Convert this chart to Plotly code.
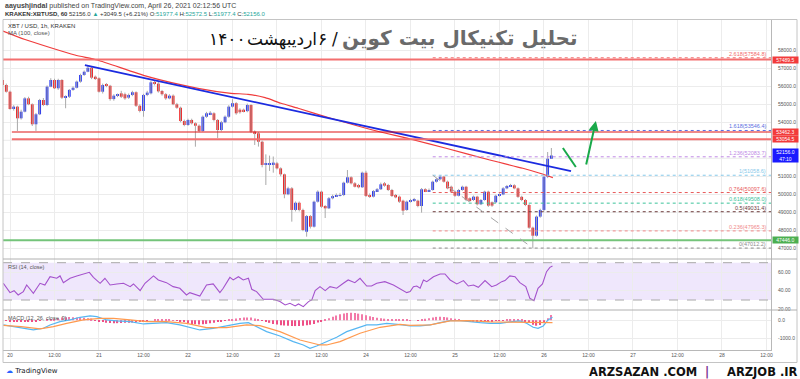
import plotly.graph_objects as go

# ---------------- data ----------------
candle_opens = [
    56350, 56072, 55700, 54740, 54870, 54222, 54590, 55330, 55000, 53890,
    54445, 55240, 54960, 55980, 56350, 55890, 56350, 55370, 55420, 55800,
    55920, 56260, 56630, 56810, 57030, 56535, 56445, 55700, 56100, 56030,
    55290, 55480, 55610, 55560, 55370, 55520, 55670, 54920, 54630, 55520,
    55610, 56220, 56150, 55740, 55560, 55330, 55480, 55000, 54810, 54070,
    53850, 54130, 53945, 53810, 53517, 54310, 54450, 54500, 54130, 53570,
    54000, 54310, 54870, 55060, 54700, 54700, 54620, 54960, 53480, 53390,
    52920, 51630, 51650, 51630, 51720, 51440, 51110, 50000, 50330, 49130,
    49530, 49130, 47920, 48790, 48200, 49590, 50145, 49350, 49220, 49780,
    49900, 49930, 49960, 50645, 50945, 50610, 50517, 50390, 51200, 49960,
    49870, 50180, 50280, 50610, 50517, 50240, 49960, 49870, 49645, 49130,
    49590, 49630, 49645, 49350, 50280, 50180, 50240, 50700, 50835, 50980,
    50700, 50420, 50145, 49920, 50240, 50420, 49780, 49683, 49870, 49445,
    49683, 50145, 49555, 49555, 49920, 49990, 50330, 50460, 50500, 50330,
    49860, 49683, 49406, 48145, 47700, 48760, 49130, 50980, 51977.4]
candle_closes = [
    56072, 55700, 54740, 54870, 54222, 54590, 55330, 55000, 53890, 54445,
    55240, 54960, 55980, 56350, 55890, 56350, 55370, 55420, 55800, 55920,
    56260, 56630, 56810, 57030, 56480, 56445, 55700, 56070, 56030, 55290,
    55480, 55520, 55420, 55330, 55520, 55670, 54920, 54630, 55520, 55650,
    56220, 56130, 55720, 55560, 55330, 55480, 55000, 54810, 54070, 53850,
    54130, 53945, 53810, 53517, 54310, 54500, 54530, 54130, 53570, 54000,
    54310, 54870, 55060, 54500, 54560, 54620, 54960, 53480, 53390, 52920,
    51630, 51720, 51720, 51760, 51440, 51110, 50000, 50330, 49130, 49530,
    49130, 48017, 48790, 48200, 49590, 50145, 49310, 49220, 49780, 49900,
    49960, 49960, 50645, 50945, 50610, 50420, 50390, 51200, 49910, 49870,
    50180, 50280, 50555, 50480, 50240, 49905, 49830, 49590, 49090, 49590,
    49680, 49720, 49350, 50280, 50180, 50240, 50700, 50835, 50980, 50700,
    50330, 50145, 49920, 50240, 50420, 49683, 49630, 49870, 49445, 49683,
    50145, 49370, 49370, 49920, 49990, 50330, 50460, 50500, 50330, 49860,
    49683, 49406, 48145, 47700, 48760, 49130, 50980, 51977.4, 52156.0]
candle_highs = [
    56500, 56150, 55760, 54950, 54920, 54700, 55400, 55420, 55050, 54520,
    55300, 55350, 56050, 56450, 56420, 56420, 56400, 55500, 55850, 56000,
    56320, 56700, 56880, 57184, 57100, 56600, 56500, 56150, 56180, 56080,
    55560, 55600, 55750, 55650, 55600, 55750, 55720, 55000, 55580, 55750,
    56300, 56350, 56250, 55800, 55620, 55560, 55550, 55080, 54870, 54150,
    54200, 54200, 54000, 53880, 54380, 54580, 54620, 54560, 54180, 54080,
    54380, 54950, 55280, 55120, 54780, 54760, 55040, 55000, 53550, 53450,
    52980, 52220, 52150, 52100, 51800, 51500, 51150, 50420, 50400, 49600,
    49600, 49200, 48850, 48850, 49650, 50220, 50200, 49400, 49850, 49980,
    50050, 50080, 50700, 51350, 51000, 50680, 50580, 51260, 51310, 50050,
    50240, 50350, 50650, 50680, 50580, 50300, 50020, 49930, 49700, 49650,
    49750, 49800, 49700, 50350, 50340, 50320, 50760, 50900, 51058.6, 51030,
    50760, 50480, 50200, 50300, 50480, 50470, 49830, 49930, 49920, 49740,
    50200, 50200, 49600, 49980, 50050, 50400, 50520, 50580, 50560, 50380,
    49920, 49740, 49460, 48200, 48820, 49200, 51050, 52350, 52572.5]
candle_lows = [
    55990, 55650, 54700, 54650, 53517, 54150, 54550, 54950, 53795, 53520,
    54400, 54900, 54900, 55950, 55850, 55800, 55300, 54780, 55350, 55750,
    55880, 56200, 56580, 56780, 56400, 56350, 55650, 55600, 55950, 55200,
    55200, 55400, 55350, 55250, 55300, 55450, 54850, 54550, 54310, 55450,
    55550, 56050, 55650, 55480, 55250, 55280, 54950, 54750, 54000, 53780,
    53800, 53880, 52645, 53450, 53480, 54250, 54400, 54050, 53130, 53500,
    53950, 54250, 54820, 54420, 54480, 54550, 54560, 53400, 52740, 52650,
    51500, 50517, 51300, 51200, 51380, 51000, 49780, 49950, 48480, 49050,
    49050, 47950, 47645, 48100, 48150, 49540, 49250, 48683, 49180, 49720,
    49850, 49880, 49900, 50600, 50550, 50380, 50330, 50350, 49850, 49800,
    49820, 50130, 50240, 50420, 50180, 49850, 49780, 49520, 48850, 49080,
    49540, 49580, 49280, 48980, 50120, 50130, 50200, 50650, 50780, 50650,
    50280, 50080, 49860, 49880, 50200, 49620, 49570, 49630, 49380, 49400,
    49640, 49300, 49300, 49500, 49870, 49950, 50280, 50410, 50280, 49800,
    49620, 49340, 48080, 47012.2, 47650, 48700, 49050, 50900, 51977.4]
first_candle_hour = -2          # hours after 20 Apr 00:00 (UTC)

# MA(100, close): (hour, value)
ma_readings = [(-1.9, 59073), (4.05, 58601), (17.5, 57740), (23.5, 57462), (37.2, 56534),
               (50.7, 55890), (59.6, 55612), (64.2, 55556), (68.8, 55367), (73.1, 55056),
               (77.7, 54778), (86.3, 54239), (97.8, 53572), (107.9, 53072), (117.6, 52556),
               (129.4, 51906), (138.3, 51445), (142.9, 51167), (146.4, 50923)]

rsi_readings = [(-1.8, 47.9), (0, 37.9), (1.1, 40), (2.2, 35.4), (3.6, 39), (4.5, 46.1), (6.3, 37.2),
                (8.1, 47.9), (9.4, 46.1), (10.8, 55), (12.6, 53.3), (13.5, 55.8), (14.4, 48.6),
                (16.2, 53.3), (18, 55.8), (19.8, 57.9), (21.4, 59.7), (22.5, 54.3), (24.3, 47.9),
                (25.6, 53.3), (27, 46.1), (28.8, 47.2), (30.6, 47.9), (32.4, 44.3), (33.3, 47.2),
                (35.1, 40), (36.4, 47.9), (38.7, 55.8), (40, 51.5), (42.2, 48.6), (44, 44.3),
                (45.8, 42.6), (47.6, 35.4), (48.5, 37.9), (51.2, 34.3), (53, 46.1), (54.8, 47.2),
                (56.6, 37.9), (57.5, 42.6), (59.3, 54.3), (60.2, 51.5), (61.6, 55), (62.9, 51.5),
                (64.3, 53.3), (65.2, 41.5), (66.5, 39), (68.3, 30.8), (71, 30.8), (72.8, 28.3),
                (74.2, 24.7), (75.5, 26.5), (76.9, 23.6), (77.8, 25.8), (79.1, 22.9), (80.5, 28.3),
                (81.4, 30.1), (82.3, 40), (83.6, 44.3), (85, 40), (86.3, 44.3), (88.1, 42.6),
                (89.9, 47.9), (91.2, 51.5), (93, 48.6), (94.4, 53.3), (96.2, 45), (97.5, 45),
                (98.9, 47.9), (101.1, 49.7), (103.4, 46.1), (105.2, 42), (107, 37.9), (107.9, 39),
                (108.8, 44.3), (109.7, 45), (110.6, 42.6), (111.5, 51.5), (112.4, 49.7), (114.2, 55),
                (116, 57.9), (117.3, 57.9), (118.7, 51.5), (120.5, 47.2), (122.3, 50.8), (123.6, 45),
                (125, 46.1), (126.3, 43.6), (128.1, 50.8), (129.9, 44.3), (131.2, 46.1), (132.6, 49.7),
                (133.5, 50.8), (134.8, 55.8), (136.2, 55), (137.5, 48.6), (139.1, 44.3), (140.2, 31.8),
                (141.3, 29.3), (142.4, 42.6), (143.6, 47.2), (144.7, 60.4), (145.6, 65), (146.3, 66.5)]

macd_readings = [(-1.8, -259), (0.9, -352), (3.6, -444), (6.3, -537), (9, -444), (10.8, -259),
                 (13.5, -74), (16.2, 19), (18.9, 167), (21.6, 241), (23.4, 204), (26.1, 19),
                 (28.8, -37), (32.4, -74), (36, -204), (38.7, -167), (42.2, -130), (45.8, -259),
                 (48.5, -389), (51.2, -537), (54.8, -444), (58.4, -315), (62, -167), (64.3, -130),
                 (66.5, -352), (69.2, -630), (72.8, -870), (76.4, -1185), (79.1, -1370), (80.9, -1555),
                 (82.7, -1426), (85.4, -1185), (88.1, -944), (90.8, -630), (93.5, -444), (96.2, -259),
                 (98.9, -259), (101.6, -167), (105.2, -240), (107.9, -315), (110.6, -315), (113.3, -259),
                 (116, -130), (118.7, -19), (121.4, -19), (124.1, -93), (126.8, -130), (129.5, -167),
                 (132.2, -167), (134.8, -93), (137.5, -37), (139.3, -167), (141.1, -389), (142.4, -444),
                 (143.8, -315), (145.1, 19), (146.3, 167)]

signal_readings = [(-1.8, -278), (3, -352), (8.1, -481), (11.7, -352), (15.3, -167), (19.8, 19),
                   (24.3, 111), (27.9, 111), (32.4, 19), (36.9, -74), (42.2, -74), (47.6, -167),
                   (53, -407), (58.4, -407), (63.8, -259), (67.4, -296), (72.8, -630), (78.2, -1093),
                   (83.6, -1370), (85.4, -1370), (89, -1185), (94.4, -722), (99.8, -389), (105.2, -222),
                   (107.9, -278), (113.3, -259), (118.7, -37), (124.1, -19), (129.5, -93), (134.8, -93),
                   (140.2, -93), (143.8, -130), (146.3, -130)]

macd_hist = [-30, -40, -50, -60, -70, -80, -90, -60, -40, -20,
             0, 30, 60, 90, 120, 150, 170, 180, 170, 160, 150, 140, 120, 100,
             -20, -60, -100, -130, -150, -160, -160, -150, -140, -130, -120, -110, -100,
             -60, -30, 0, 30, 40, 50, 40, 30, 10, -20, -50,
             -100, -150, -200, -220, -230, -220, -200, -170, -130, -100,
             -60, -20, 20, 60, 100, 130, 150, 160, 150, 100,
             40, -20, -80, -140, -200, -240, -270, -290, -300, -310, -320, -320, -300, -280, -250, -200,
             -120, -40, 40, 120, 200, 270, 330, 380, 410, 420, 400, 370, 330, 280, 230, 180, 140,
             110, 90, 70, 60, 50, 40, 30, 20, 10, 0, -10,
             40, 80, 120, 160, 190, 200, 190, 160, 120, 80,
             40, 0, -30, -50, -60, -70, -70, -60, -50, -40, -30, -20, -10,
             20, 50, 70, 60, 30,
             -40, -150, -250, -300, -260, -120, 120, 300]
first_hist_hour = -1

tick_hours = list(range(0, 205, 12))
tick_text = ["20", "12:00", "21", "12:00", "22", "12:00", "23", "12:00", "24", "12:00",
             "25", "12:00", "26", "12:00", "27", "12:00", "28", "12:00"]
# 52000 and 53000 are hidden behind the price boxes in the reference
price_ticks = [47000, 48000, 49000, 50000, 51000, 54000, 55000, 56000, 57000, 58000]
rsi_ticks = [20, 40, 60]
macd_ticks = [-1000, 0]
price_grid = [52000, 53000]

resistance_prices = [57489.5, 53462.3, 53054.5]
support_price = 47446.0
last_price = 52156.0
countdown = "47:10"

fib_ratios = ["2.618", "1.618", "1.236", "1", "0.764", "0.618", "0.5", "0.236", "0"]
fib_prices = [57584.8, 53546.4, 52083.7, 51058.6, 50097.6, 49508.0, 49031.4, 47965.3, 47012.2]
fib_anchor_hours = [114, 141]
fib_anchor_prices = [51058.6, 47012.2]

trend_hours = [20.2, 151.3]
trend_prices = [57180, 51290]

green_stroke_hours = [149.1, 152.6]
green_stroke_prices = [52572, 51517]
green_arrow_hours = [155.3, 158.0]
green_arrow_prices = [51573, 54073]

# ---------------- styles / geometry ----------------
W, H = 800, 379
L, R, T, B = 3, 771, 20, 350
Y_PRICE_BOTTOM, Y_RSI_BOTTOM = 259, 310


def px(x):
    return (x - L) / (R - L)


def py(y):
    return (B - y) / (B - T)


UP, DOWN, WICK = "#1f2ff2", "#f01c1c", "#a9a9a9"
GRID = "#ececec"
AXIS = "#b8b8b8"
FONT = "Liberation Sans"

candle_hours = list(range(first_candle_hour, first_candle_hour + len(candle_opens)))
hist_hours = list(range(first_hist_hour, first_hist_hour + len(macd_hist)))

fig = go.Figure()

# wicks
wx, wy = [], []
for h, hi, lo in zip(candle_hours, candle_highs, candle_lows):
    wx += [h, h, None]
    wy += [lo, hi, None]
fig.add_trace(go.Scatter(x=wx, y=wy, mode="lines", line=dict(color=WICK, width=1),
                         xaxis="x", yaxis="y", hoverinfo="skip"))
# bodies
bases = [min(o, c) for o, c in zip(candle_opens, candle_closes)]
sizes = [max(abs(c - o), 28) for o, c in zip(candle_opens, candle_closes)]
cols = [UP if c >= o else DOWN for o, c in zip(candle_opens, candle_closes)]
fig.add_trace(go.Bar(x=candle_hours, y=sizes, base=bases, width=0.74,
                     marker=dict(color=cols, line=dict(width=0)), xaxis="x", yaxis="y"))

# MA 100
fig.add_trace(go.Scatter(x=[p[0] for p in ma_readings], y=[p[1] for p in ma_readings],
                         mode="lines", line=dict(color="#f03c3c", width=1.2, shape="spline", smoothing=0.6),
                         xaxis="x", yaxis="y"))
# trend line
fig.add_trace(go.Scatter(x=trend_hours, y=trend_prices, mode="lines",
                         line=dict(color="#1b2be0", width=1.8), xaxis="x", yaxis="y"))
# green stroke
fig.add_trace(go.Scatter(x=green_stroke_hours, y=green_stroke_prices, mode="lines",
                         line=dict(color="#19a94a", width=2), xaxis="x", yaxis="y"))

# RSI
fig.add_trace(go.Scatter(x=[p[0] for p in rsi_readings], y=[p[1] for p in rsi_readings],
                         mode="lines", line=dict(color="#a452cc", width=1.1), xaxis="x2", yaxis="y2"))
# MACD
fig.add_trace(go.Bar(x=hist_hours, y=macd_hist, width=0.32,
                     marker=dict(color=["#f27aa8" if v >= 0 else "#ee4f86" for v in macd_hist],
                                 line=dict(width=0)),
                     xaxis="x3", yaxis="y3"))
fig.add_trace(go.Scatter(x=[p[0] for p in macd_readings], y=[p[1] for p in macd_readings],
                         mode="lines", line=dict(color="#56b6f2", width=1.2), xaxis="x3", yaxis="y3"))
fig.add_trace(go.Scatter(x=[p[0] for p in signal_readings], y=[p[1] for p in signal_readings],
                         mode="lines", line=dict(color="#ff9a4f", width=1.2), xaxis="x3", yaxis="y3"))

shapes = []
# extra price grid rows whose labels are hidden
for g in price_grid:
    shapes.append(dict(type="line", xref="paper", x0=0, x1=1, yref="y", y0=g, y1=g,
                       line=dict(color=GRID, width=1), layer="below"))
# RSI band
shapes.append(dict(type="rect", xref="paper", x0=0, x1=1, yref="y2", y0=30, y1=70,
                   fillcolor="rgba(160,110,235,0.17)", line=dict(width=0), layer="below"))
for lvl in (30, 70):
    shapes.append(dict(type="line", xref="paper", x0=0, x1=1, yref="y2", y0=lvl, y1=lvl,
                       line=dict(color="#a8a8a8", width=1, dash="dash")))
# horizontal levels
shapes.append(dict(type="line", xref="paper", x0=0, x1=1, yref="y",
                   y0=resistance_prices[0], y1=resistance_prices[0], line=dict(color="#f36f6f", width=2)))
shapes.append(dict(type="line", xref="x", x0=0.5, x1=205.3, yref="y",
                   y0=resistance_prices[1], y1=resistance_prices[1], line=dict(color="#e01515", width=1.2)))
shapes.append(dict(type="line", xref="x", x0=0.5, x1=205.3, yref="y",
                   y0=resistance_prices[2], y1=resistance_prices[2], line=dict(color="#f36f6f", width=2)))
shapes.append(dict(type="line", xref="paper", x0=0, x1=1, yref="y",
                   y0=support_price, y1=support_price, line=dict(color="#74c47a", width=2)))

fib_colors = ["#f26d6d", "#5b6ee1", "#c08ae6", "#86c9ea", "#e85a5a", "#3cc39a", "#6d3b3b", "#f08a8a", "#8a8a8a"]
for p, c in zip(fib_prices, fib_colors):
    shapes.append(dict(type="line", xref="x", x0=fib_anchor_hours[0], x1=205.3, yref="y", y0=p, y1=p,
                       line=dict(color=c, width=1, dash="dot")))
shapes.append(dict(type="line", xref="x", x0=fib_anchor_hours[0], x1=fib_anchor_hours[1], yref="y",
                   y0=fib_anchor_prices[0], y1=fib_anchor_prices[1],
                   line=dict(color="#a5a5a5", width=1, dash="dash")))

# frame and dividers
shapes.append(dict(type="rect", xref="paper", yref="paper", x0=0, x1=px(797), y0=py(362.5), y1=py(19.5),
                   line=dict(color="#c4c4c4", width=1)))
for yy in (Y_PRICE_BOTTOM, Y_RSI_BOTTOM):
    shapes.append(dict(type="line", xref="paper", yref="paper", x0=0, x1=px(797), y0=py(yy), y1=py(yy),
                       line=dict(color="#b0b0b0", width=1)))

ann = []
# header
ann.append(dict(xref="paper", yref="paper", x=px(3), y=py(6), xanchor="left", yanchor="middle",
                text="<b>aayushjindal</b> published on TradingView.com, April 26, 2021 02:12:56 UTC",
                showarrow=False, font=dict(size=7, color="#444", family=FONT)))
teal = "#26a69a"
ann.append(dict(xref="paper", yref="paper", x=px(3), y=py(14), xanchor="left", yanchor="middle",
                text=("<b>KRAKEN:XBTUSD, 60</b> 52156.0 <span style='color:%s'>▲</span> +3049.5 (+6.21%%) "
                      "O:<span style='color:%s'>51977.4</span> H:<span style='color:%s'>52572.5</span> "
                      "L:<span style='color:%s'>51977.4</span> C:<span style='color:%s'>52156.0</span>")
                % (teal, teal, teal, teal, teal),
                showarrow=False, font=dict(size=6, color="#333", family=FONT)))
ann.append(dict(xref="paper", yref="paper", x=px(6), y=py(25.5), xanchor="left", yanchor="middle",
                text="XBT / USD, 1h, KRAKEN", showarrow=False, font=dict(size=6, color="#333", family=FONT)))
ann.append(dict(xref="paper", yref="paper", x=px(6), y=py(33.5), xanchor="left", yanchor="middle",
                text="MA (100, close)", showarrow=False, font=dict(size=6, color="#555", family=FONT)))
ann.append(dict(xref="paper", yref="paper", x=px(6), y=py(266.5), xanchor="left", yanchor="middle",
                text="RSI (14, close)", showarrow=False, font=dict(size=5.5, color="#555", family=FONT)))
ann.append(dict(xref="paper", yref="paper", x=px(6), y=py(318), xanchor="left", yanchor="middle",
                text="MACD (12, 26, close, 9)", showarrow=False, font=dict(size=5.5, color="#555", family=FONT)))

# Persian title
ann.append(dict(xref="paper", yref="paper", x=px(579), y=py(38), xanchor="right", yanchor="middle",
                text="<b>تحلیل تکنیکال بیت کوین</b>", showarrow=False,
                font=dict(size=20, color="#6a6a6a", family="DejaVu Sans")))
for txt, xr in (("/", 340), ("۶", 329), ("اردیبهشت", 319), ("۱۴۰۰", 248)):
    ann.append(dict(xref="paper", yref="paper", x=px(xr), y=py(39), xanchor="right", yanchor="middle",
                    text=txt, showarrow=False, font=dict(size=17, color="#111", family="DejaVu Sans")))

# fib labels
for r_, p, c in zip(fib_ratios, fib_prices, fib_colors):
    ann.append(dict(xref="x", yref="y", x=204.4, y=p, xanchor="right", yanchor="bottom",
                    text="%s(%.1f)" % (r_, p), showarrow=False, yshift=-1,
                    font=dict(size=5.5, color=c, family=FONT)))

# right axis price boxes
box_specs = [(resistance_prices[0], "#f23b3b"), (resistance_prices[1], "#f23b3b"),
             (resistance_prices[2], "#f23b3b"), (support_price, "#4caf50")]
for p, c in box_specs:
    ann.append(dict(xref="paper", yref="y", x=px(771.5), y=p, xanchor="left", yanchor="middle",
                    text="%.1f" % p, showarrow=False, bgcolor=c, width=24, height=5.5, borderpad=0.3,
                    font=dict(size=5, color="white", family=FONT)))
ann.append(dict(xref="paper", yref="y", x=px(771.5), y=last_price, xanchor="left", yanchor="middle",
                text="%.1f<br>%s" % (last_price, countdown), showarrow=False, bgcolor="#1a1aff",
                width=24, height=12, borderpad=0.5, font=dict(size=5, color="white", family=FONT)))

# green arrow
ann.append(dict(xref="x", yref="y", axref="x", ayref="y", x=green_arrow_hours[1], y=green_arrow_prices[1],
                ax=green_arrow_hours[0], ay=green_arrow_prices[0], showarrow=True, arrowhead=2,
                arrowsize=1, arrowwidth=2, arrowcolor="#19a94a", text=""))

# footer
ann.append(dict(xref="paper", yref="paper", x=px(4), y=py(371), xanchor="left", yanchor="middle",
                text="<span style='color:#2962ff'>☁</span> TradingView", showarrow=False,
                font=dict(size=7, color="#131722", family="DejaVu Sans")))
ann.append(dict(xref="paper", yref="paper", x=px(587), y=py(371.5), xanchor="left", yanchor="middle",
                text="<b>ARZSAZAN .COM</b>", showarrow=False, font=dict(size=11.5, color="#111", family="DejaVu Sans")))
ann.append(dict(xref="paper", yref="paper", x=px(707), y=py(371.5), xanchor="center", yanchor="middle",
                text="<b>|</b>", showarrow=False, font=dict(size=11.5, color="#7b2d8e", family="DejaVu Sans")))
ann.append(dict(xref="paper", yref="paper", x=px(725), y=py(371.5), xanchor="left", yanchor="middle",
                text="<b>ARZJOB .IR</b>", showarrow=False, font=dict(size=11.5, color="#111", family="DejaVu Sans")))

x_common = dict(tickvals=tick_hours, ticktext=tick_text, showgrid=True, gridcolor=GRID, gridwidth=1,
                zeroline=False, ticks="")
y_common = dict(side="right", showgrid=True, gridcolor=GRID, zeroline=False, showline=True,
                linecolor=AXIS, ticks="", tickfont=dict(size=5, color="#555", family=FONT),
                ticklabelstandoff=5, fixedrange=True)

fig.update_layout(
    width=W, height=H, margin=dict(l=L, r=W - R, t=T, b=H - B),
    paper_bgcolor="white", plot_bgcolor="white", showlegend=False, barmode="overlay",
    font=dict(family=FONT, color="#444"),
    xaxis=dict(domain=[0, 1], anchor="y", range=[-1.888, 205.23], showticklabels=False, **x_common),
    xaxis2=dict(domain=[0, 1], anchor="y2", matches="x", showticklabels=False, **x_common),
    xaxis3=dict(domain=[0, 1], anchor="y3", matches="x", showticklabels=True, showline=True, linecolor=AXIS,
                tickfont=dict(size=5, color="#555", family=FONT), **x_common),
    yaxis=dict(domain=[py(Y_PRICE_BOTTOM), 1], anchor="x", range=[46405, 59684], tickvals=price_ticks,
               ticktext=["%.1f" % v for v in price_ticks], **y_common),
    yaxis2=dict(domain=[py(Y_RSI_BOTTOM), py(Y_PRICE_BOTTOM)], anchor="x2", range=[19.27, 73.97],
                tickvals=rsi_ticks, ticktext=["%.2f" % v for v in rsi_ticks], **y_common),
    yaxis3=dict(domain=[0, py(Y_RSI_BOTTOM)], anchor="x3", range=[-1650, 572],
                tickvals=macd_ticks, ticktext=["%.1f" % v for v in macd_ticks], **y_common),
    shapes=shapes, annotations=ann,
)

fig.write_html("out.html", config={"displayModeBar": False},
               post_script="document.body.style.margin='0px';")
